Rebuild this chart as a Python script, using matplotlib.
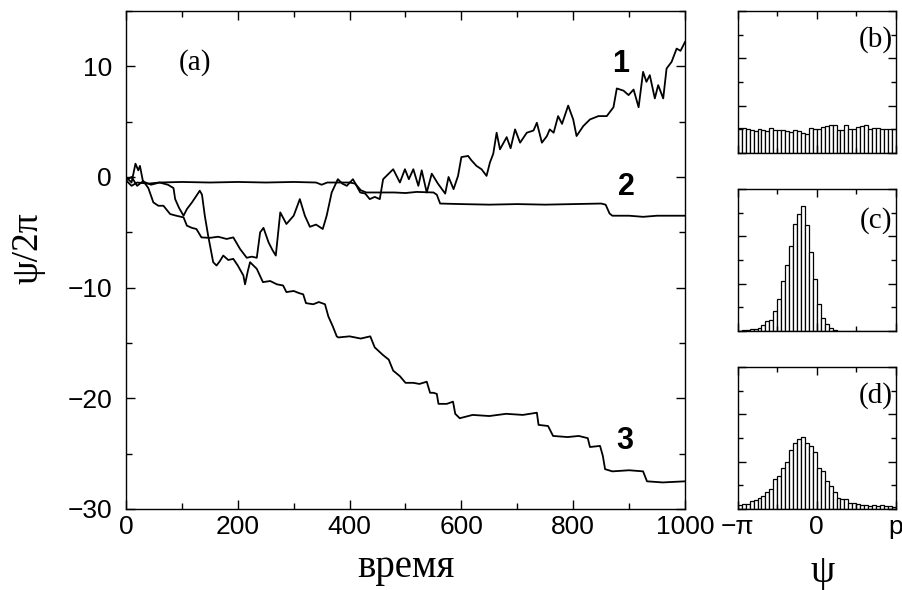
import numpy as np
import matplotlib
matplotlib.use("Agg")
import matplotlib.pyplot as plt
from matplotlib.ticker import MultipleLocator

# --- panel (a): phase walks ---
t1 = [0, 10, 17, 22, 25, 30, 40, 49, 58, 67, 79, 90, 103, 109, 118, 126, 135, 150, 165, 180,
      192, 204, 216, 225, 234, 240, 246, 255, 262, 268, 276, 287, 300, 311, 320, 329, 340, 352,
      359, 368, 379, 387, 395, 406, 419, 428, 436, 445, 454, 460, 470, 478, 490, 499, 506, 514,
      523, 529, 538, 547, 558, 571, 577, 586, 594, 600, 612, 618, 627, 636, 645, 651, 657, 663,
      669, 681, 688, 696, 705, 717, 729, 735, 744, 753, 758, 765, 773, 780, 791, 800, 806, 818,
      830, 845, 860, 872, 878, 890, 899, 908, 917, 925, 931, 937, 946, 952, 961, 967, 976, 985,
      992, 1000]
psi1 = [0.0, -0.5, 1.2, 0.6, 1.0, -0.3, -1.0, -2.3, -2.6, -2.6, -3.35, -3.5, -3.65, -4.4, -4.6,
        -4.7, -5.46, -5.5, -5.4, -5.6, -5.46, -6.5, -7.3, -7.2, -7.3, -5.0, -4.6, -5.9, -6.6,
        -7.1, -3.2, -4.25, -3.5, -2.0, -3.5, -4.5, -4.3, -4.7, -3.5, -1.4, -0.2, -0.6, -0.8, -0.2,
        -1.4, -1.5, -2.0, -1.8, -2.0, -0.2, 0.3, 0.7, -0.5, 0.7, -0.2, 0.7, -0.8, 0.6, -1.4, 0.3,
        -0.6, -1.5, 0.0, -1.1, 0.1, 1.8, 1.9, 1.5, 1.0, 0.7, 0.1, 1.3, 2.1, 4.0, 2.5, 3.6, 2.6,
        4.3, 3.1, 4.0, 4.2, 4.9, 3.1, 3.7, 4.3, 4.0, 5.5, 4.8, 6.45, 5.2, 3.7, 4.6, 5.2, 5.5, 5.5,
        6.3, 8.0, 7.8, 7.4, 7.9, 6.3, 9.5, 8.6, 9.2, 7.1, 8.3, 7.1, 9.8, 10.4, 11.6, 11.4, 12.2]

t2 = [0, 10, 20, 40, 60, 100, 150, 200, 250, 300, 340, 350, 360, 400, 410, 420, 430, 480, 500,
      520, 550, 556, 562, 600, 650, 700, 750, 800, 850, 858, 865, 870, 900, 925, 950, 1000]
psi2 = [-0.3, -0.8, -0.5, -0.6, -0.5, -0.45, -0.5, -0.45, -0.5, -0.45, -0.5, -0.7, -0.5, -0.5,
        -0.6, -1.2, -1.4, -1.4, -1.45, -1.35, -1.4, -1.6, -2.4, -2.45, -2.5, -2.45, -2.5, -2.45,
        -2.4, -2.5, -3.3, -3.5, -3.5, -3.6, -3.5, -3.5]

t3 = [0, 10, 20, 30, 45, 60, 75, 85, 88, 95, 103, 109, 118, 126, 132, 136, 141, 147, 156, 162,
      168, 174, 183, 192, 200, 210, 213, 218, 222, 228, 234, 245, 258, 270, 281, 287, 300, 310,
      317, 322, 335, 345, 356, 362, 370, 377, 380, 400, 420, 437, 445, 460, 470, 478, 490, 500,
      514, 525, 538, 544, 550, 556, 559, 574, 585, 589, 597, 620, 650, 680, 710, 735, 738, 755,
      764, 790, 810, 826, 830, 848, 853, 857, 870, 900, 925, 932, 960, 1000]
psi3 = [-0.3, 0.0, -0.8, -0.4, -0.7, -0.5, -0.7, -1.0, -2.0, -2.8, -3.5, -2.9, -2.3, -1.7, -1.24,
        -1.6, -3.5, -5.3, -7.7, -8.0, -7.6, -7.1, -7.5, -7.4, -8.0, -8.9, -9.7, -8.5, -7.7, -8.0,
        -8.3, -9.5, -9.4, -9.7, -9.8, -10.4, -10.3, -10.5, -10.6, -11.4, -11.5, -11.3, -11.5,
        -12.6, -13.5, -14.4, -14.5, -14.4, -14.6, -14.4, -15.4, -16.1, -16.5, -17.5, -18.0, -18.6,
        -18.6, -18.7, -18.5, -19.5, -19.5, -19.6, -20.5, -20.5, -20.3, -21.4, -21.8, -21.5, -21.6,
        -21.4, -21.5, -21.3, -22.4, -22.5, -23.4, -23.5, -23.4, -23.6, -24.4, -24.3, -25.2, -26.4,
        -26.6, -26.5, -26.6, -27.5, -27.6, -27.5]

# --- panels (b)-(d): histograms of psi, 40 bins on [-pi, pi] ---
hist_b = [1.06, 1.04, 1.01, 0.96, 0.94, 1.01, 0.97, 0.93, 1.04, 0.96, 0.96, 0.99, 0.94, 0.89,
          0.96, 0.94, 0.86, 0.82, 1.04, 1.03, 1.03, 1.08, 1.14, 1.17, 1.17, 0.99, 0.97, 1.17,
          1.03, 1.03, 1.11, 1.14, 1.18, 1.0, 1.04, 1.04, 1.03, 1.03, 1.03, 1.03]
hist_c = [0.01, 0.03, 0.05, 0.1, 0.07, 0.14, 0.25, 0.42, 0.48, 0.85, 1.37, 2.13, 2.77, 3.6,
          4.53, 4.94, 5.3, 4.49, 3.34, 2.2, 1.14, 0.55, 0.28, 0.11, 0.04, 0.02, 0.01, 0.01,
          0.02, 0.01, 0.01, 0.02, 0.01, 0.01, 0.01, 0.01, 0.02, 0.02, 0.01, 0.01]
hist_d = [0.17, 0.23, 0.23, 0.32, 0.38, 0.45, 0.56, 0.73, 0.86, 1.28, 1.39, 1.75, 1.99, 2.48,
          2.80, 2.94, 3.06, 2.77, 2.68, 2.41, 1.75, 1.62, 1.2, 0.99, 0.72, 0.45, 0.42, 0.41,
          0.27, 0.24, 0.2, 0.18, 0.15, 0.14, 0.15, 0.14, 0.17, 0.14, 0.11, 0.07]

SANS = "Liberation Sans"
SERIF = "Liberation Serif"
plt.rcParams["font.family"] = [SANS, "DejaVu Sans"]
plt.rcParams["axes.linewidth"] = 1.0

fig = plt.figure(figsize=(9.03, 5.90), dpi=100)

ax = fig.add_axes([0.1395, 0.1373, 0.6191, 0.8441])
for t, p in [(t1, psi1), (t2, psi2), (t3, psi3)]:
    ax.plot(t, p, color="black", lw=1.3)
ax.set_xlim(0, 1000)
ax.set_ylim(-30, 15)
ax.set_xticks([0, 200, 400, 600, 800, 1000])
ax.set_yticks([-30, -20, -10, 0, 10])
ax.set_yticklabels(["\u221230", "\u221220", "\u221210", "0", "10"])
ax.xaxis.set_minor_locator(MultipleLocator(100))
ax.yaxis.set_minor_locator(MultipleLocator(5))
ax.tick_params(which="both", direction="in", top=True, right=True, width=1.0, labelsize=19)
ax.tick_params(which="major", length=6.5)
ax.tick_params(which="minor", length=4)
ax.tick_params(axis="x", pad=4)
ax.tick_params(axis="y", pad=10)
ax.text(0.123, 0.896, "(a)", transform=ax.transAxes, family=SERIF, fontsize=21,
        ha="center", va="center")
ax.text(884, 10.2, "1", fontsize=22, fontweight="bold", ha="center", va="center")
ax.text(896, -0.9, "2", fontsize=22, fontweight="bold", ha="center", va="center")
ax.text(893, -23.9, "3", fontsize=22, fontweight="bold", ha="center", va="center")

fig.text(405.5 / 903, 0.022, "время", family=SERIF, fontsize=28, ha="center", va="baseline")
fig.text(28 / 903, 1 - 248 / 590, "\u03c8/2\u03c0", family=SERIF, fontsize=27,
         rotation=90, ha="center", va="center")

edges = np.linspace(-np.pi, np.pi, 41)
centers = 0.5 * (edges[:-1] + edges[1:])
width = edges[1] - edges[0]

panels = [(0.7407, hist_b, "(b)", 0.80), (0.4390, hist_c, "(c)", 0.78), (0.1373, hist_d, "(d)", 0.80)]
for i, (bottom, vals, lab, ly) in enumerate(panels):
    h = fig.add_axes([0.8170, bottom, 0.175, 0.2407])
    h.bar(centers, vals, width=width, color="white", edgecolor="black", linewidth=0.9)
    h.set_xlim(-np.pi, np.pi)
    h.set_ylim(0, 6)
    h.set_xticks([-np.pi, 0, np.pi])
    h.set_xticks([-np.pi / 2, np.pi / 2], minor=True)
    h.set_yticks([0, 2, 4, 6])
    h.set_yticks([1, 3, 5], minor=True)
    h.set_yticklabels([])
    h.tick_params(which="both", direction="in", top=True, right=True, width=1.0, labelsize=19)
    h.tick_params(which="major", length=6)
    h.tick_params(which="minor", length=3.5)
    h.tick_params(axis="x", pad=4)
    if i < 2:
        h.set_xticklabels([])
    else:
        h.set_xticklabels(["\u2212\u03c0", "0", "p"])
    h.text(0.875, ly, lab, transform=h.transAxes, family=SERIF, fontsize=21,
           ha="center", va="center")

fig.text(823 / 903, 0.014, "\u03c8", family=SERIF, fontsize=28, ha="center", va="baseline")

fig.savefig("out.png", dpi=100)
